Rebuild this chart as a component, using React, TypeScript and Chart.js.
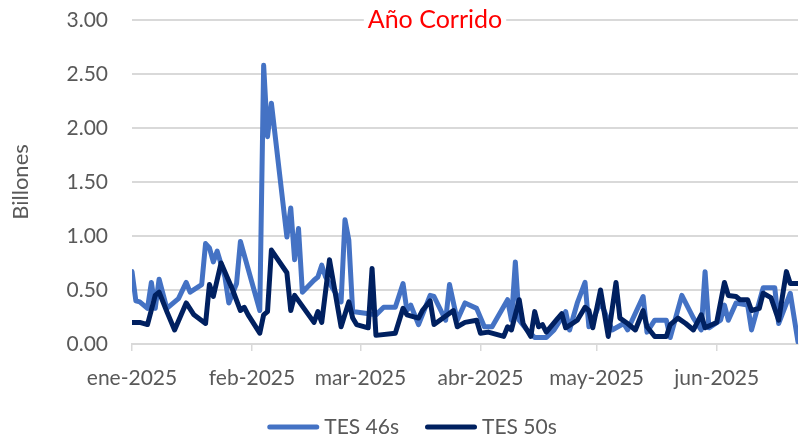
import React, { useEffect, useRef } from "react";
import { Chart, registerables } from "chart.js";

Chart.register(...registerables);

// x values are days since 1 Jan 2025
const monthStarts = [0, 31, 59, 90, 120, 151];
const monthLabels = ["ene-2025", "feb-2025", "mar-2025", "abr-2025", "may-2025", "jun-2025"];
const lastDay = 172;

const days46 = [0,1,2,4,5,6,7,9,10,12,14,15,18,19,20,21,22,24,25,27,28,33,34,35,36,40,41,42,43,44,47,48,49,50,54,55,56,57,63,65,68,70,71,72,74,77,78,81,82,84,86,89,91,93,97,98,99,100,102,104,107,109,112,113,115,117,118,119,121,124,127,128,132,133,135,138,139,142,145,147,148,149,152,153,154,156,159,160,163,166,167,170,172];
const tes46 = [0.67,0.40,0.39,0.33,0.57,0.33,0.60,0.33,0.36,0.42,0.57,0.48,0.55,0.93,0.89,0.76,0.86,0.62,0.38,0.56,0.95,0.31,2.58,1.92,2.23,0.99,1.26,0.78,1.07,0.48,0.59,0.62,0.73,0.62,0.39,1.15,0.96,0.30,0.27,0.34,0.34,0.56,0.31,0.36,0.18,0.45,0.44,0.22,0.55,0.22,0.38,0.33,0.16,0.16,0.41,0.22,0.76,0.22,0.13,0.06,0.06,0.13,0.30,0.13,0.38,0.57,0.16,0.22,0.39,0.13,0.19,0.13,0.44,0.11,0.22,0.22,0.06,0.45,0.24,0.13,0.67,0.15,0.22,0.36,0.22,0.38,0.36,0.13,0.52,0.52,0.19,0.47,0.02];

const days50 = [0,2,4,6,7,9,11,14,16,19,20,21,23,26,28,29,30,33,34,35,36,40,41,42,47,48,49,51,54,56,57,58,61,62,63,68,70,71,74,75,77,78,83,84,86,89,90,92,96,97,98,100,101,103,104,105,106,107,110,111,112,115,117,118,119,121,123,125,126,128,130,132,133,135,138,139,141,143,145,147,148,151,153,154,156,157,159,160,162,163,165,167,169,170,172];
const tes50 = [0.20,0.20,0.18,0.45,0.48,0.30,0.13,0.38,0.27,0.19,0.55,0.44,0.75,0.50,0.31,0.34,0.27,0.10,0.27,0.30,0.87,0.66,0.31,0.45,0.20,0.30,0.20,0.78,0.16,0.39,0.24,0.18,0.15,0.70,0.08,0.10,0.33,0.27,0.24,0.31,0.40,0.18,0.31,0.16,0.20,0.22,0.10,0.11,0.07,0.16,0.13,0.41,0.19,0.07,0.30,0.16,0.18,0.11,0.24,0.28,0.15,0.22,0.34,0.31,0.15,0.50,0.07,0.57,0.24,0.19,0.13,0.31,0.16,0.07,0.07,0.18,0.24,0.19,0.13,0.27,0.15,0.20,0.57,0.45,0.44,0.41,0.41,0.31,0.33,0.47,0.43,0.22,0.67,0.56,0.56];

const seriesNames = ["TES 46s", "TES 50s"];
const seriesColors = ["#4472C4", "#002060"];
const chartTitle = "Año Corrido";
const yTitle = "Billones";

const FONT = "Lato";
const GREY = "#595959";

const titlePlugin = {
  id: "redTitle",
  afterDraw(chart: any) {
    const ctx = chart.ctx;
    ctx.save();
    ctx.font = `25px ${FONT}`;
    const w = ctx.measureText(chartTitle).width;
    const cx = 435;
    const cy = 20;
    ctx.fillStyle = "#ffffff";
    ctx.fillRect(cx - w / 2 - 4, cy - 14, w + 8, 28);
    ctx.fillStyle = "#FF0000";
    ctx.textAlign = "center";
    ctx.textBaseline = "middle";
    ctx.fillText(chartTitle, cx, cy);
    ctx.restore();
  },
};

// legend drawn from the chart's own datasets (labels + colours)
const legendPlugin = {
  id: "lineLegend",
  afterDraw(chart: any) {
    const ctx = chart.ctx;
    const lineW = 52;
    const gap = 5;
    const itemGap = 26;
    const cy = 427;
    const cx = 412;
    ctx.save();
    ctx.font = `21px ${FONT}`;
    const items = chart.data.datasets.map((ds: any) => ({
      text: ds.label,
      color: ds.borderColor,
      w: ctx.measureText(ds.label).width,
    }));
    const total =
      items.reduce((s: number, it: any) => s + lineW + gap + it.w, 0) + itemGap * (items.length - 1);
    let x = cx - total / 2;
    items.forEach((it: any) => {
      ctx.strokeStyle = it.color;
      ctx.lineWidth = 5;
      ctx.lineCap = "round";
      ctx.beginPath();
      ctx.moveTo(x + 2.5, cy);
      ctx.lineTo(x + lineW - 2.5, cy);
      ctx.stroke();
      ctx.fillStyle = GREY;
      ctx.textAlign = "left";
      ctx.textBaseline = "middle";
      ctx.fillText(it.text, x + lineW + gap, cy);
      x += lineW + gap + it.w + itemGap;
    });
    ctx.restore();
  },
};

export default function App() {
  const ref = useRef<HTMLCanvasElement>(null);
  useEffect(() => {
    if (!ref.current) return;
    const chart = new Chart(ref.current, {
      type: "line",
      data: {
        datasets: [
          {
            label: seriesNames[0],
            data: days46.map((d, i) => ({ x: d, y: tes46[i] })),
            borderColor: seriesColors[0],
            backgroundColor: seriesColors[0],
            borderWidth: 5,
            pointRadius: 0,
            tension: 0,
            borderJoinStyle: "round",
            borderCapStyle: "round",
            order: 1,
          },
          {
            label: seriesNames[1],
            data: days50.map((d, i) => ({ x: d, y: tes50[i] })),
            borderColor: seriesColors[1],
            backgroundColor: seriesColors[1],
            borderWidth: 5,
            pointRadius: 0,
            tension: 0,
            borderJoinStyle: "round",
            borderCapStyle: "round",
            order: 0,
          },
        ],
      },
      options: {
        responsive: false,
        animation: false,
        layout: { padding: { top: 20, right: 2, left: 0, bottom: 0 } },
        plugins: {
          tooltip: { enabled: false },
          legend: { display: false },
        },
        scales: {
          x: {
            type: "linear",
            min: 0,
            max: lastDay,
            afterBuildTicks: (s: any) => {
              s.ticks = monthStarts.map((v) => ({ value: v }));
            },
            afterFit: (s: any) => {
              s.height = 94;
            },
            ticks: {
              callback: (_v: any, i: number) => monthLabels[i],
              autoSkip: false,
              maxRotation: 0,
              padding: 15,
              color: GREY,
              font: { family: FONT, size: 21 },
            },
            grid: {
              drawOnChartArea: false,
              drawTicks: true,
              tickLength: 7,
              color: "#D9D9D9",
              lineWidth: 1.5,
            },
            border: { display: true, color: "#D9D9D9", width: 2 },
          },
          y: {
            min: 0,
            max: 3,
            afterFit: (s: any) => {
              s.width = 132;
            },
            ticks: {
              stepSize: 0.5,
              callback: (v: any) => Number(v).toFixed(2),
              padding: 0,
              color: GREY,
              font: { family: FONT, size: 21 },
            },
            grid: {
              color: "#D9D9D9",
              lineWidth: 2,
              drawTicks: true,
              tickLength: 24,
              tickColor: "rgba(0,0,0,0)",
            },
            border: { display: false },
            title: {
              display: true,
              text: yTitle,
              color: GREY,
              font: { family: FONT, size: 22 },
              padding: { top: 8, bottom: 0 },
            },
          },
        },
      },
      plugins: [titlePlugin, legendPlugin],
    });
    return () => chart.destroy();
  }, []);
  return (
    <div style={{ position: "absolute", left: 0, top: 0, width: 800, height: 438, background: "#fff" }}>
      <canvas ref={ref} width={800} height={438} />
    </div>
  );
}
